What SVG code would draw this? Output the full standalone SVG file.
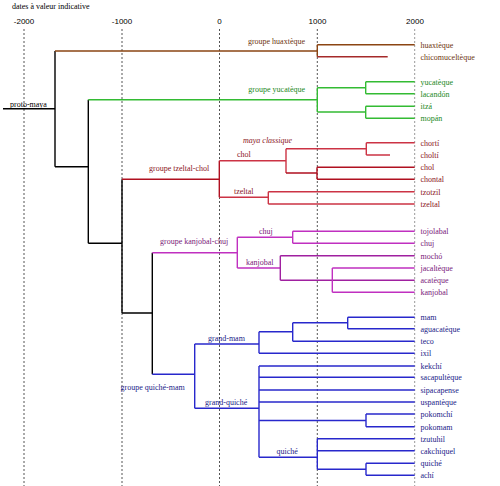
<svg xmlns="http://www.w3.org/2000/svg" width="500" height="486" viewBox="0 0 500 486">
<style>
text{font-family:"Liberation Serif","Times New Roman",serif;font-size:8px}
.ax{font-family:"Liberation Sans",Arial,sans-serif;font-size:8px;text-anchor:middle;fill:#000}
.grid{stroke:#555;stroke-width:1;stroke-dasharray:2,2;fill:none}
.c{fill:none;stroke-width:1.4}
.k{stroke:#000}
.br{stroke:#8b4513}.br2{stroke:#a52a2a}
.gr{stroke:#33bb33}
.rd{stroke:#cc3344}.rd2{stroke:#b01020}
.pu{stroke:#c030c0}.pu2{stroke:#a020a0}
.bl{stroke:#2828cc}
.tbr{fill:#6e3510}.tgr{fill:#228822}.trd{fill:#8b1525}.tpu{fill:#7a1a7a}.tbl{fill:#222288}
</style>
<g id="axis">
<text x="12" y="9" fill="#000">dates à valeur indicative</text>
<text class="ax" x="24" y="24">-2000</text>
<text class="ax" x="122" y="24">-1000</text>
<text class="ax" x="219.5" y="24">0</text>
<text class="ax" x="317.5" y="24">1000</text>
<text class="ax" x="415" y="24">2000</text>
<path class="grid" d="M24,29V486M122,29V486M219.5,29V486M317.3,29V486"/>
<path class="grid" style="stroke:#999" d="M414.7,29V486"/>
</g>
<g id="connectors">
<path class="c k" d="M3,108.7H55M55,51V166.7M55,166.7H88.3M88.3,99.7V243.3M88.3,243.3H122M122,179.3V313M122,313H152.3M152.3,252.7V374.3"/>
<path class="c br" d="M55,51H317.3M317.3,44.7V56.7M317.3,44.7H414.7"/>
<path class="c br2" d="M317.3,56.7H387.7"/>
<path class="c gr" d="M88.3,99.7H317.3M317.3,87.7V112M317.3,87.7H365.7M317.3,112H365.7M365.7,81.7V93.7M365.7,81.7H414.7M365.7,93.7H414.7M365.7,106.3V118.3M365.7,106.3H414.7M365.7,118.3H414.7"/>
<path class="c rd2" d="M122,179.3H219.3M219.3,160.7V197.3"/>
<path class="c rd" d="M219.3,160.7H286M286,148.7V173M286,148.7H366.3M366.3,142.7V155M366.3,142.7H414.7M366.3,155H390M219.3,197.3H268.3M268.3,191.7V204M268.3,191.7H414.7M268.3,204H414.7"/>
<path class="c rd2" d="M286,173H317M317,167.3V179.3M317,167.3H414.7M317,179.3H414.7"/>
<path class="c pu" d="M152.3,252.7H237.3M237.3,237.3V268M237.3,237.3H292.7M292.7,231.3V243.3M292.7,231.3H414.7M292.7,243.3H414.7M237.3,268H280.3"/>
<path class="c pu2" d="M280.3,255.7V280.3M280.3,255.7H414.7M280.3,280.3H414.7"/>
<path class="c pu" d="M332.3,268V292.3M332.3,268H414.7M332.3,292.3H414.7"/>
<path class="c bl" d="M152.3,374.3H194.7M194.7,344V408.3M194.7,344H259M259,331.7V353.3M259,331.7H292.7M292.7,322.7V341.3M292.7,322.7H347.7M347.7,317.3V328.7M347.7,317.3H414.7M347.7,328.7H414.7M292.7,341.3H414.7M259,353.3H414.7"/>
<path class="c bl" d="M194.7,408.3H259M259,366V457.3M259,366H414.7M259,377.3H414.7M259,390H414.7M259,402H414.7M259,420.5H366M366,414V426.7M366,414H414.7M366,426.7H414.7M259,457.3H317.3M317.3,438.7V469.3M317.3,438.7H414.7M317.3,450.7H414.7M317.3,469.3H366M366,463.3V475.3M366,463.3H414.7M366,475.3H414.7"/>
</g>
<g id="proto-maya"><text x="10" y="106.5" fill="#000">proto-maya</text></g>
<g id="groupe-huaxteque"><text class="tbr" x="305" y="44" text-anchor="end">groupe huaxtèque</text></g>
<g id="groupe-yucateque"><text class="tgr" x="305" y="92" text-anchor="end">groupe yucatèque</text></g>
<g id="groupe-tzeltal-chol"><text class="trd" x="149" y="171">groupe tzeltal-chol</text></g>
<g id="chol-branch"><text class="trd" x="237" y="157">chol</text></g>
<g id="maya-classique"><text class="trd" x="243" y="143" font-style="italic">maya classique</text></g>
<g id="tzeltal-branch"><text class="trd" x="234" y="194">tzeltal</text></g>
<g id="groupe-kanjobal-chuj"><text class="tpu" x="160" y="244">groupe kanjobal-chuj</text></g>
<g id="chuj-branch"><text class="tpu" x="259" y="234">chuj</text></g>
<g id="kanjobal-branch"><text class="tpu" x="246" y="265">kanjobal</text></g>
<g id="groupe-quiche-mam"><text class="tbl" x="120.5" y="389.5">groupe quiché-mam</text></g>
<g id="grand-mam"><text class="tbl" x="208" y="341">grand-mam</text></g>
<g id="grand-quiche"><text class="tbl" x="205" y="405">grand-quiché</text></g>
<g id="quiche-branch"><text class="tbl" x="276.5" y="454">quiché</text></g>
<g id="leaves">
<g id="huaxteque"><text class="tbr" x="420.5" y="47.7">huaxtèque</text></g>
<g id="chicomucelteque"><text class="tbr" x="420.5" y="59.7">chicomuceltèque</text></g>
<g id="yucateque"><text class="tgr" x="420.5" y="84.5">yucatèque</text></g>
<g id="lacandon"><text class="tgr" x="420.5" y="96.5">lacandón</text></g>
<g id="itza"><text class="tgr" x="420.5" y="109">itzá</text></g>
<g id="mopan"><text class="tgr" x="420.5" y="121">mopán</text></g>
<g id="chorti"><text class="trd" x="420.5" y="145.7">chortí</text></g>
<g id="cholti"><text class="trd" x="420.5" y="157.7">choltí</text></g>
<g id="chol"><text class="trd" x="420.5" y="170.3">chol</text></g>
<g id="chontal"><text class="trd" x="420.5" y="182.3">chontal</text></g>
<g id="tzotzil"><text class="trd" x="420.5" y="194.5">tzotzil</text></g>
<g id="tzeltal"><text class="trd" x="420.5" y="206.8">tzeltal</text></g>
<g id="tojolabal"><text class="tpu" x="420.5" y="234.3">tojolabal</text></g>
<g id="chuj"><text class="tpu" x="420.5" y="246.3">chuj</text></g>
<g id="mocho"><text class="tpu" x="420.5" y="258.5">mochó</text></g>
<g id="jacalteque"><text class="tpu" x="420.5" y="271">jacaltèque</text></g>
<g id="acateque"><text class="tpu" x="420.5" y="283.2">acatèque</text></g>
<g id="kanjobal"><text class="tpu" x="420.5" y="295.2">kanjobal</text></g>
<g id="mam"><text class="tbl" x="420.5" y="320.3">mam</text></g>
<g id="aguacateque"><text class="tbl" x="420.5" y="331.7">aguacatèque</text></g>
<g id="teco"><text class="tbl" x="420.5" y="344.3">teco</text></g>
<g id="ixil"><text class="tbl" x="420.5" y="356.3">ixil</text></g>
<g id="kekchi"><text class="tbl" x="420.5" y="369">kekchí</text></g>
<g id="sacapulteque"><text class="tbl" x="420.5" y="380.3">sacapultèque</text></g>
<g id="sipacapense"><text class="tbl" x="420.5" y="393">sipacapense</text></g>
<g id="uspanteque"><text class="tbl" x="420.5" y="405">uspantèque</text></g>
<g id="pokomchi"><text class="tbl" x="420.5" y="417">pokomchí</text></g>
<g id="pokomam"><text class="tbl" x="420.5" y="429.7">pokomam</text></g>
<g id="tzutuhil"><text class="tbl" x="420.5" y="441.7">tzutuhil</text></g>
<g id="cakchiquel"><text class="tbl" x="420.5" y="453.7">cakchiquel</text></g>
<g id="quiche"><text class="tbl" x="420.5" y="466.3">quiché</text></g>
<g id="achi"><text class="tbl" x="420.5" y="478.3">achí</text></g>
</g>
</svg>
